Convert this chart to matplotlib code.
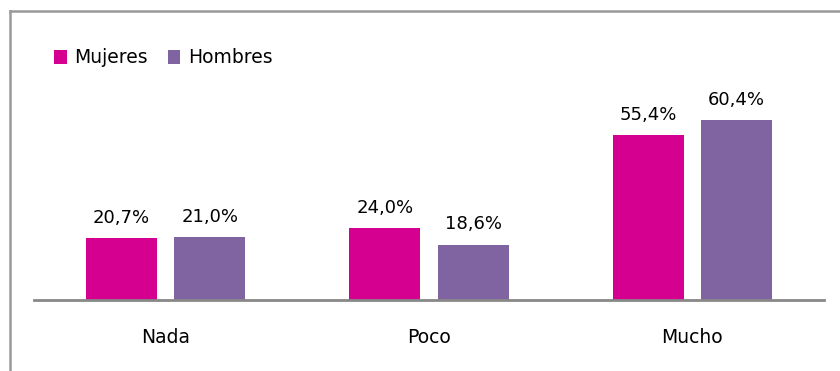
import numpy as np
from matplotlib import pyplot as plt
from matplotlib.lines import Line2D

categories = ['Nada', 'Poco', 'Mucho']
mujeres = [20.7, 24.0, 55.4]
hombres = [21.0, 18.6, 60.4]

c_muj = '#D5008F'
c_hom = '#8064A2'

plt.rcParams['font.family'] = ['DejaVu Sans']

fig = plt.figure(figsize=(8.4, 3.71), dpi=100)
ax = fig.add_axes([34 / 840, 71 / 371, 790 / 840, 270 / 371])

x = np.arange(len(categories))
w = 0.27
off = 0.168
b1 = ax.bar(x - off, mujeres, w, color=c_muj, label='Mujeres')
b2 = ax.bar(x + off, hombres, w, color=c_hom, label='Hombres')

fmt = lambda v: f'{v:.1f}%'.replace('.', ',')
ax.bar_label(b1, labels=[fmt(v) for v in mujeres], padding=8, fontsize=13)
ax.bar_label(b2, labels=[fmt(v) for v in hombres], padding=8, fontsize=13)

ax.set_xlim(-0.5, 2.5)
ax.set_ylim(0, 90.6)
ax.set_xticks(x)
ax.set_xticklabels(categories, fontsize=13.5)
ax.tick_params(axis='x', length=0, pad=20)
ax.set_yticks([])
for s in ['top', 'right', 'left']:
    ax.spines[s].set_visible(False)
ax.spines['bottom'].set_color('#888888')
ax.spines['bottom'].set_linewidth(2)

ax.legend(loc='upper left', bbox_to_anchor=(0.0044, 0.995), ncol=2, frameon=False,
          fontsize=13.5, handlelength=0.65, handleheight=0.8, handletextpad=0.4,
          columnspacing=1.1)

# outer border (only top and left visible)
fig.add_artist(Line2D([10 / 840, 1.0], [1 - 11 / 371] * 2, color='#999999', lw=1.8))
fig.add_artist(Line2D([10 / 840] * 2, [0.0, 1 - 11 / 371], color='#999999', lw=1.8))

fig.savefig('out.png', dpi=100)
